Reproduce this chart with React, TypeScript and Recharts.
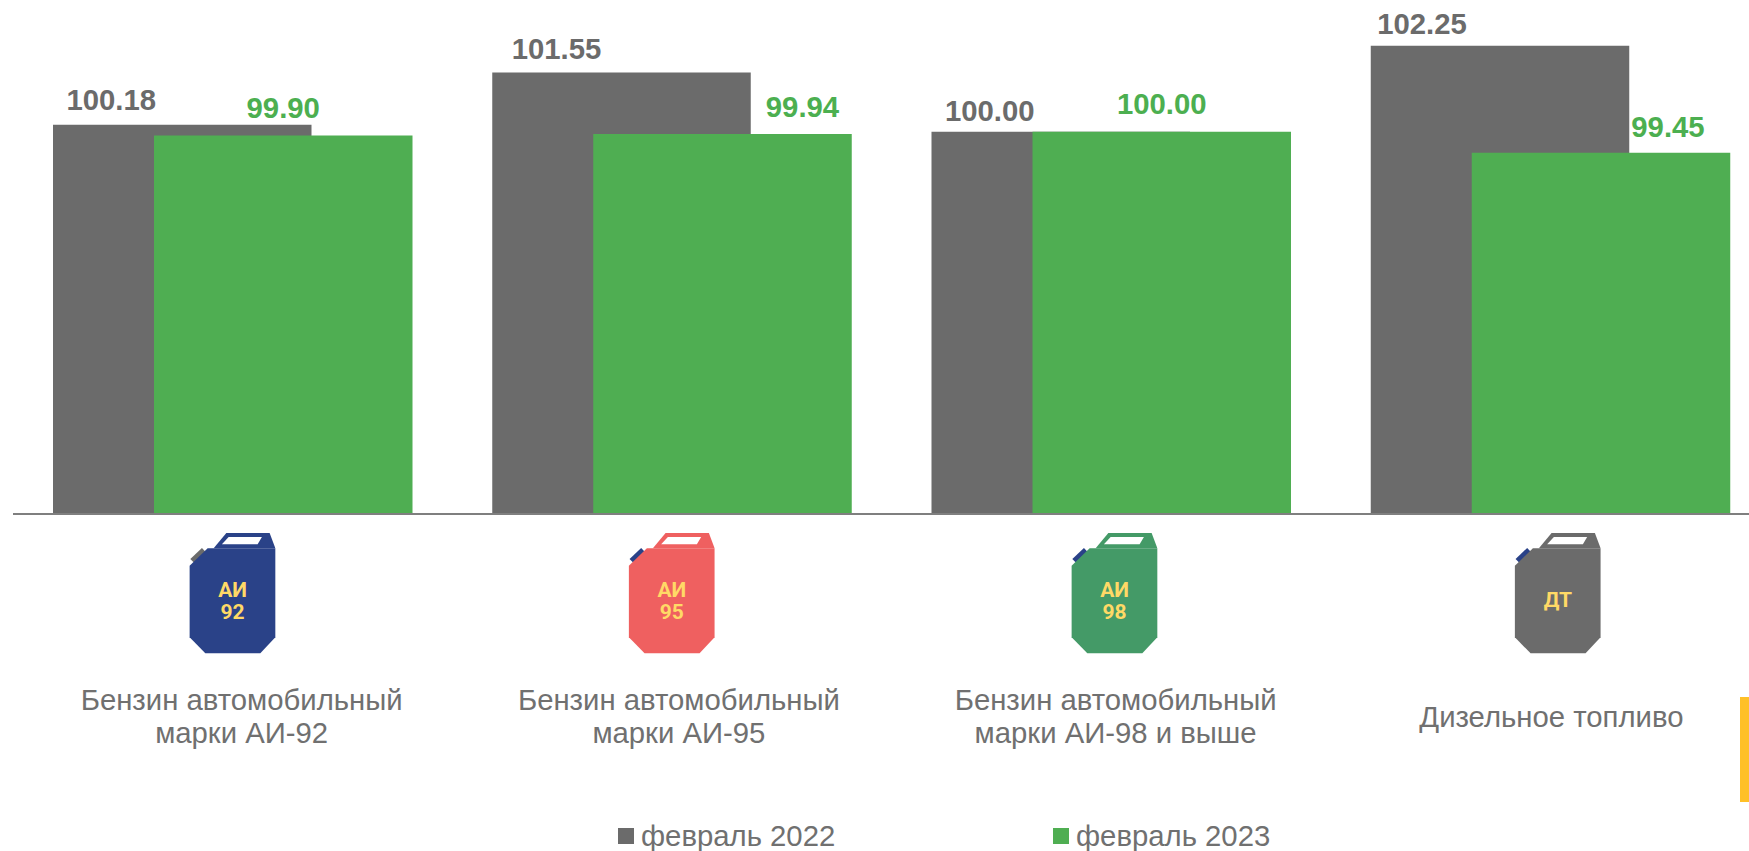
import React from 'react';
import { BarChart, Bar, XAxis, YAxis, Legend, LabelList } from 'recharts';

const categories = ['АИ-92', 'АИ-95', 'АИ-98', 'ДТ'];
const feb2022 = [100.18, 101.55, 100.0, 102.25];
const feb2023 = [99.9, 99.94, 100.0, 99.45];
const tickLines = [
    ['Бензин автомобильный', 'марки АИ-92'],
    ['Бензин автомобильный', 'марки АИ-95'],
    ['Бензин автомобильный', 'марки АИ-98 и выше'],
    ['Дизельное топливо'],
];
const badgeLines = [['АИ', '92'], ['АИ', '95'], ['АИ', '98'], ['ДТ']];

// canister colours, per category
const bodyColors = ['#2A4288', '#EF6060', '#449A67', '#6B6B6B'];
const capColors = ['#6B6B6B', '#2A4288', '#2A4288', '#2A4288'];

// the labels and icons were moved by hand in the original
const nudge2022 = [[-71, -15], [-65, -13], [-71, -11], [-78, -12]];
const nudge2023 = [[0, -18], [80, -17], [0, -18], [67, -16]];
const iconShift = [0, 0, 3.5, 7.5];
const textShift = [9, 7, 4.5, 1];

const GRAY = '#6B6B6B';
const GREEN = '#4FAE52';
const TEXT = '#707070';
const FONT = '"Liberation Sans", Arial, sans-serif';

const data = categories.map((name, i) => ({ name, feb2022: feb2022[i], feb2023: feb2023[i] }));

function Canister({ index }: { index: number }) {
    const badge = badgeLines[index];
    return (
        <g transform={`translate(${iconShift[index] - 43}, 11)`}>
            <path d="M0.700 26 L12.300 15 L16.300 19.300 L4.700 30 Z" fill={capColors[index]} />
            <path d="M24 15.300 L36.700 0 L80 0 L85.700 15.300 Z" fill={bodyColors[index]} />
            <path d="M0 32.700 L18 15.300 L85.700 15.300 L85.700 104.300 L70.700 120.300 L15.700 120.300 L0 104.300 Z" fill={bodyColors[index]} />
            <path d="M32.300 11.300 L39 4 L72.300 4 L68 11.300 Z" fill="#fff" />
            <text
                textAnchor="middle"
                fontFamily="Roboto, sans-serif"
                fontWeight={700}
                fontSize={21}
                fill="#FFD966"
            >
                {badge.map((line, i) => (
                    <tspan key={line} x={43} y={badge.length === 1 ? 74 : 64 + i * 22}>
                        {line}
                    </tspan>
                ))}
            </text>
        </g>
    );
}

function CanisterTick({ x, y, index }: any) {
    const lines = tickLines[index];
    return (
        <g transform={`translate(${x}, ${y})`}>
            <Canister index={index} />
            {lines.map((line, i) => (
                <text
                    key={line}
                    x={textShift[index]}
                    y={lines.length === 1 ? 205 : 188 + i * 33}
                    textAnchor="middle"
                    fontFamily={FONT}
                    fontSize={29.300}
                    fill={TEXT}
                >
                    {line}
                </text>
            ))}
        </g>
    );
}

function valueLabel(nudge: number[][], color: string) {
    return ({ x, y, width, value, index }: any) => (
        <text
            x={x + width / 2 + nudge[index][0]}
            y={y + nudge[index][1]}
            textAnchor="middle"
            fontFamily={FONT}
            fontWeight={700}
            fontSize={29.300}
            fill={color}
        >
            {Number(value).toFixed(2)}
        </text>
    );
}

function LegendRow({ payload }: any) {
    const starts = [618, 1053];
    return (
        <div style={{ position: 'relative', height: 36 }}>
            {(payload || []).map((item: any, i: number) => (
                <div
                    key={item.value}
                    style={{
                        position: 'absolute',
                        left: starts[i],
                        top: 0,
                        display: 'flex',
                        alignItems: 'center',
                        whiteSpace: 'nowrap',
                        fontFamily: FONT,
                        fontSize: 29.300,
                        color: TEXT,
                    }}
                >
                    <span style={{ width: 16, height: 16, background: item.color, marginRight: 7 }} />
                    {item.value}
                </div>
            ))}
        </div>
    );
}

export default function App() {
    return (
        <div style={{ position: 'absolute', left: 0, top: 0, width: 1749, height: 851, overflow: 'hidden', background: '#fff' }}>
            <BarChart
                width={1770}
                height={851}
                data={data}
                barSize={258.500}
                barGap={-157.500}
                margin={{ top: 17, right: 0, bottom: 0, left: 13 }}
            >
                <XAxis
                    dataKey="name"
                    interval={0}
                    height={337}
                    tickLine={false}
                    axisLine={{ stroke: '#7F7F7F', strokeWidth: 2 }}
                    tick={CanisterTick}
                />
                <YAxis hide domain={[90, 103]} />
                <Legend
                    layout="horizontal"
                    verticalAlign="middle"
                    align="center"
                    wrapperStyle={{ left: 0, top: 819, width: 1770 }}
                    content={LegendRow}
                />
                <Bar dataKey="feb2022" name="февраль 2022" fill={GRAY} isAnimationActive={false}>
                    <LabelList dataKey="feb2022" content={valueLabel(nudge2022, GRAY)} />
                </Bar>
                <Bar dataKey="feb2023" name="февраль 2023" fill={GREEN} isAnimationActive={false}>
                    <LabelList dataKey="feb2023" content={valueLabel(nudge2023, '#4CAF50')} />
                </Bar>
            </BarChart>
            <div style={{ position: 'absolute', left: 1740, top: 697, width: 9, height: 105, background: '#FFC027' }} />
        </div>
    );
}
